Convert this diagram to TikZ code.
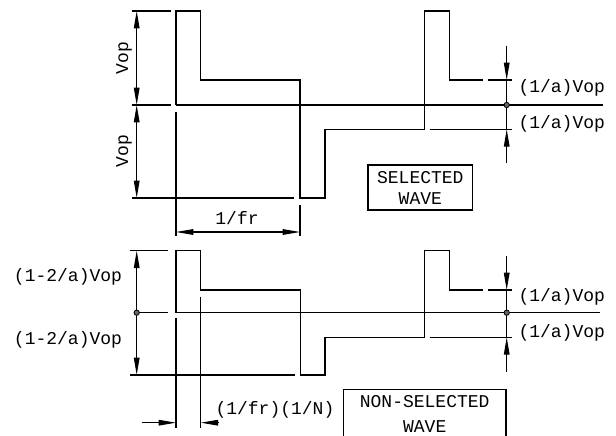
\documentclass[tikz,border=0pt]{standalone}
\usepackage{fontspec}
\setmonofont{Liberation Mono}
\usetikzlibrary{arrows.meta}

\begin{document}
\begin{tikzpicture}[x=0.75pt,y=0.75pt,yscale=-1,
  line width=0.8pt,
  lbl/.style={font=\ttfamily\fontsize{13.5}{16}\selectfont, inner sep=0.75pt},
  dimarrow/.style={-{Triangle[length=13pt,width=4.2pt]}},
  dimboth/.style={{Triangle[length=13pt,width=4.2pt]}-{Triangle[length=13pt,width=4.2pt]}},
  axisdot/.style={circle, draw, fill=black!60, line width=0.6pt, inner sep=0pt, minimum size=4pt}]
\useasboundingbox (0,0) rectangle (616,435);

%%% Selected wave
%Wave
\draw (176,105) -- (176,11) -- (200.7,11) -- (200.7,80) -- (300,80) -- (300,198) -- (325,198) -- (325,129.3) -- (424.3,129.3) -- (424.3,11) -- (449.3,11) -- (449.3,80) -- (483,80) ;
%Zero axis
\draw (176,105) -- (603,105) ;
%Extension lines
\draw (131.7,11) -- (170.7,11) ;
\draw [line width=1.2pt] (131.7,105) -- (170.7,105) ;
\draw (131.7,198) -- (294,198) ;
\draw (176,112) -- (176,236) ;
\draw (300,205) -- (300,236) ;
\draw (488,80) -- (511.7,80) ;
\draw (430,129.3) -- (511.7,129.3) ;
%Dimension lines
\draw [dimboth] (136.7,11) -- (136.7,105) ;
\draw [dimboth] (136.7,105) -- (136.7,198) ;
\draw [dimboth] (176,232) -- (300,232) ;
\draw [dimarrow] (506.7,45.7) -- (506.7,80) ;
\draw (506.7,80) -- (506.7,129.3) ;
\draw [dimarrow] (506.7,163) -- (506.7,129.3) ;
\node [axisdot] (seldot) at (506.7,105) {};

% Text Node
\node [lbl, rotate=90] (vopup) at (124,58) {Vop};
% Text Node
\node [lbl, rotate=90] (vopdown) at (124,151) {Vop};
% Text Node
\node [lbl] (period) at (237,218) {1/fr};
% Text Node
\node [lbl, anchor=west] (selhigh) at (517,88) {(1/a)Vop};
% Text Node
\node [lbl, anchor=west] (sellow) at (517,124) {(1/a)Vop};
% Text Node
\draw (368,165) rectangle (472.7,210) ;
\node [lbl] (seltop) at (420.3,177.5) {SELECTED};
\node [lbl] (selbot) at (420.3,199) {WAVE};

%%% Non-selected wave
%Wave
\draw (176,312.7) -- (176,250.7) -- (200.7,250.7) -- (200.7,290) -- (300.7,290) -- (300.7,375) -- (325,375) -- (325,337.3) -- (424.3,337.3) -- (424.3,250.7) -- (449.3,250.7) -- (449.3,290) -- (483,290) ;
%Zero axis
\draw (176,312.7) -- (600,312.7) ;
%Extension lines
\draw (130,250.7) -- (168.3,250.7) ;
\draw (136.7,312.7) -- (168.3,312.7) ;
\draw (130,375) -- (295,375) ;
\draw (176,318) -- (176,428) ;
\draw (200.7,296.7) -- (200.7,428) ;
\draw (488,290) -- (511.7,290) ;
\draw (430,337.3) -- (511.7,337.3) ;
%Dimension lines
\draw [dimboth] (136.7,250.7) -- (136.7,375) ;
\node [axisdot] (nonleftdot) at (136.7,312.7) {};
\draw [dimarrow] (141.7,422.7) -- (176,422.7) ;
\draw [dimarrow] (218,422.7) -- (200.7,422.7) ;
\draw [dimarrow] (506.7,256) -- (506.7,290) ;
\draw (506.7,290) -- (506.7,337.3) ;
\draw [dimarrow] (506.7,371.7) -- (506.7,337.3) ;
\node [axisdot] (nondot) at (506.7,312.7) {};

% Text Node
\node [lbl] (nonhigh) at (68,277) {(1-2/a)Vop};
% Text Node
\node [lbl] (nonlow) at (68,340) {(1-2/a)Vop};
% Text Node
\node [lbl, anchor=west] (slot) at (214,410) {(1/fr)(1/N)};
% Text Node
\node [lbl, anchor=west] (nonrhigh) at (517,297) {(1/a)Vop};
% Text Node
\node [lbl, anchor=west] (nonrlow) at (517,333) {(1/a)Vop};
% Text Node
\draw (343.3,389.3) rectangle (506,450) ;
\node [lbl] (nontop) at (424.7,401.7) {NON-SELECTED};
\node [lbl] (nonbot) at (424.7,426.5) {WAVE};

\end{tikzpicture}
\end{document}
